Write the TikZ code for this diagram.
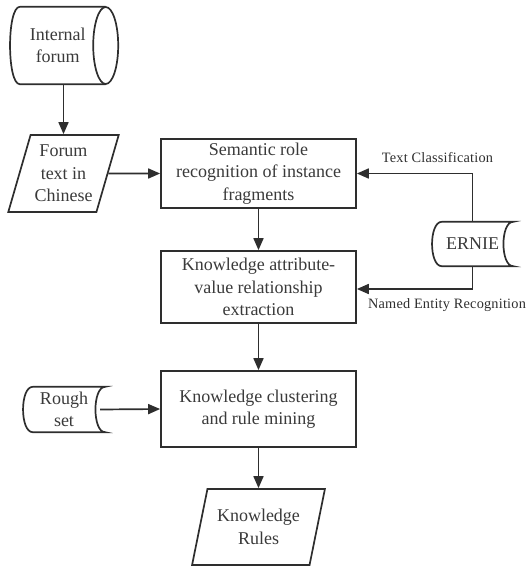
\documentclass[tikz,border=0pt]{standalone}
\usepackage{fontspec}
\setmainfont{Liberation Serif}
\newfontfamily\tagfont[LetterSpace=1.5]{Liberation Serif}
\usetikzlibrary{arrows.meta,positioning,shapes.geometric}
\definecolor{ink}{HTML}{2E2E2E}
\definecolor{txt}{HTML}{3A3A3A}

% outline of a stored-data node (round left end, hollow right end)
\newcommand\storeoutline[1]{%
  \draw[flow] ([xshift=10pt]#1.north west) -- (#1.north east)
    .. controls ([xshift=-13pt]#1.north east) and ([xshift=-13pt]#1.south east) .. (#1.south east)
    -- ([xshift=10pt]#1.south west)
    .. controls ([xshift=-3pt]#1.south west) and ([xshift=-3pt]#1.north west) .. ([xshift=10pt]#1.north west) -- cycle;}
% outline of a lying drum: round left end, full ellipse on the right
\newcommand\drumoutline[1]{%
  \draw[flow] ([xshift=10pt]#1.north west) -- (#1.north east)
    (#1.south east) -- ([xshift=10pt]#1.south west)
    .. controls ([xshift=-3pt]#1.south west) and ([xshift=-3pt]#1.north west) .. ([xshift=10pt]#1.north west);
  \draw[flow] (#1.east) ellipse [x radius=12.5pt,y radius=38.5pt];}

\begin{document}
\begin{tikzpicture}[x=1pt,y=-1pt,>={Triangle[length=12pt,width=10pt]},
  every node/.style={font=\rmfamily\fontsize{18}{22.5}\selectfont,text=txt,align=center,inner sep=1pt},
  flow/.style={draw=ink,line width=1.7pt},
  box/.style={flow,minimum width=195pt},
  io/.style={flow,trapezium,trapezium left angle=71,trapezium right angle=109,trapezium stretches=true},
  drum/.style={minimum width=95.5pt,minimum height=77pt},
  store/.style={minimum width=82pt,minimum height=45pt},
  tag/.style={font=\tagfont\fontsize{14.3}{17}\selectfont,text=ink}]
\useasboundingbox (0,0) rectangle (526,566);

\node[drum] (forum) at (57.75,45.5) {Internal\\forum};
\drumoutline{forum}
\node[io,minimum width=111pt,minimum height=77pt] (chtext) at (63.5,173.5) {Forum\\text in\\Chinese};
\node[box,minimum height=69pt] (srl) at (258.5,173.5) {Semantic role\\recognition of instance\\fragments};
\node[box,minimum height=72pt] (kav) at (258.5,287) {Knowledge attribute-\\value relationship\\extraction};
\node[box,minimum height=76pt] (kcr) at (258.5,409) {Knowledge clustering\\and rule mining};
\node[io,minimum width=133pt,minimum height=76pt] (rules) at (258.5,527) {Knowledge\\Rules};
\node[store,minimum width=81pt,minimum height=44pt] (ernie) at (472.5,244) {ERNIE};
\node[store] (rough) at (64,409.5) {Rough\\set};
\storeoutline{ernie}
\storeoutline{rough}

\node[tag] (tcls) at (437.5,158) {Text Classification};
\node[tag] (ner) at (447,305) {Named Entity Recognition};

\draw[flow,->] (chtext.north |- forum.south) -- (chtext.north);
\draw[flow,->] (chtext.east) -- (srl.west);
\draw[flow,->] (srl) -- (kav);
\draw[flow,->] (kav) -- (kcr);
\draw[flow,->] (kcr) -- (rules);
\draw[flow,->] ([xshift=-5pt]rough.east) -- (kcr.west);
\draw[flow,->] (ernie.north) |- (srl.east);
\draw[flow,->] (ernie.south) |- ([yshift=-2pt]kav.east);
\end{tikzpicture}
\end{document}
